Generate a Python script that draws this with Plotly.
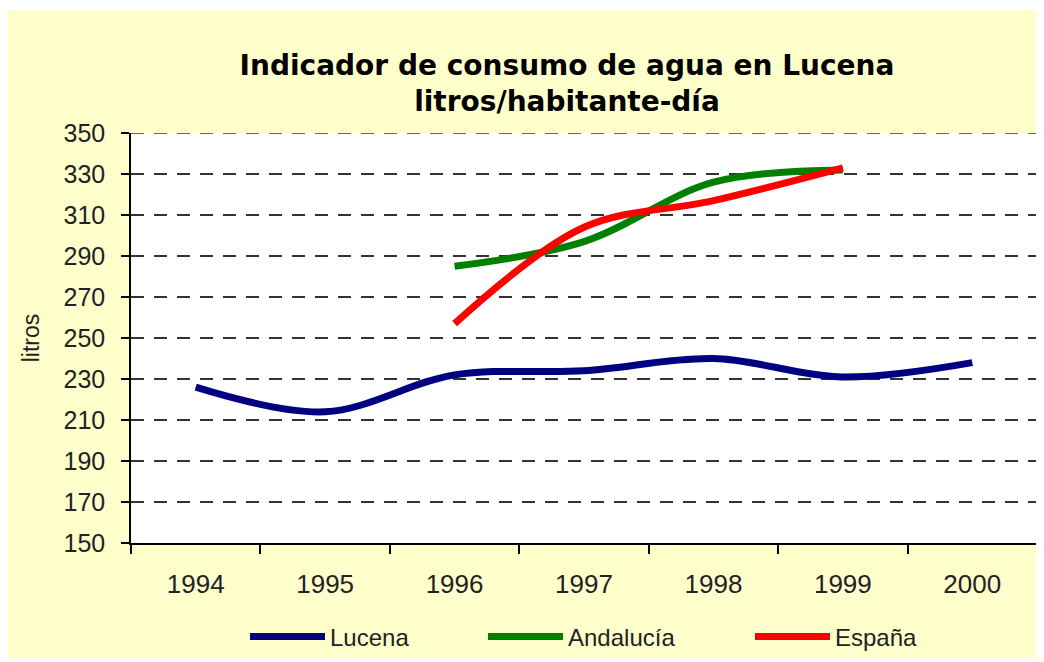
import plotly.graph_objects as go

years = ["1994", "1995", "1996", "1997", "1998", "1999", "2000"]
lucena = [226, 214, 232, 234, 240, 231, 238]
andalucia_years = ["1996", "1997", "1998", "1999"]
andalucia = [285, 297, 326, 332]
espana_years = ["1996", "1997", "1998", "1999"]
espana = [257, 304, 317, 333]

# page body has an 8px margin; work in figure coordinates
OFF = 8
W, H = 1036, 650
L, R, T, B = 123, 7, 125, 115
pw, ph = W - L - R, H - T - B

def px_x(sx):
    return (sx - OFF - L) / pw

def px_y(sy):
    return (H - B - (sy - OFF)) / ph

fig = go.Figure()
fig.add_trace(go.Scatter(x=years, y=lucena, name="Lucena", mode="lines", legend="legend",
                         line=dict(color="#000080", width=7, shape="spline", smoothing=1)))
fig.add_trace(go.Scatter(x=andalucia_years, y=andalucia, name="Andalucía", mode="lines", legend="legend2",
                         line=dict(color="#008000", width=7, shape="spline", smoothing=1)))
fig.add_trace(go.Scatter(x=espana_years, y=espana, name="España", mode="lines", legend="legend3",
                         line=dict(color="#FF0000", width=7, shape="spline", smoothing=1)))

leg_common = dict(orientation="h", xanchor="left", yanchor="middle", y=px_y(637),
                  bgcolor="rgba(0,0,0,0)", itemwidth=75,
                  font=dict(family="Liberation Sans, Arial, sans-serif", size=24, color="#222"))

fig.update_layout(
    width=W, height=H,
    margin=dict(l=L, r=R, t=T, b=B, autoexpand=False),
    paper_bgcolor="white",
    plot_bgcolor="white",
    font=dict(family="Liberation Sans, Arial, sans-serif", size=24, color="#222"),
    title=dict(text="<b>Indicador de consumo de agua en Lucena<br>litros/habitante-día</b>",
               font=dict(family="DejaVu Sans, Verdana, sans-serif", size=28, color="black"),
               x=px_x(567), xref="paper", xanchor="center",
               y=1 - (75 - OFF) / H, yref="container", yanchor="middle"),
    shapes=[
        dict(type="rect", xref="paper", yref="paper", layer="below",
             x0=px_x(8), x1=px_x(1044), y0=px_y(658), y1=px_y(10),
             fillcolor="#FFFFCC", line=dict(width=0)),
        dict(type="rect", xref="paper", yref="paper", layer="below",
             x0=0, x1=1, y0=0, y1=1, fillcolor="white", line=dict(width=0)),
        dict(type="line", xref="paper", yref="y", layer="above",
             x0=0, x1=1, y0=350, y1=350,
             line=dict(color="#333", width=1.5, dash="13px,10px")),
    ],
    xaxis=dict(
        type="category", categoryorder="array", categoryarray=years,
        range=[-0.5, 6.5], tickson="boundaries", ticks="outside", ticklen=9,
        tickwidth=1.5, tickcolor="black", showline=True, linecolor="black", linewidth=1.5,
        showgrid=False, ticklabelstandoff=17,
        tickfont=dict(size=26, color="#222"),
    ),
    yaxis=dict(
        range=[150, 350], dtick=20, tick0=150, ticks="outside", ticklen=8,
        tickwidth=1.5, tickcolor="black", showline=True, linecolor="black", linewidth=1.5,
        showgrid=True, gridcolor="#333", gridwidth=1.5, griddash="13px,10px",
        zeroline=False, ticklabelstandoff=11,
        tickfont=dict(size=25, color="#222"),
        title=dict(text="litros", font=dict(size=23, color="#222"), standoff=17),
    ),
    legend=dict(leg_common, x=px_x(245)),
    legend2=dict(leg_common, x=px_x(483)),
    legend3=dict(leg_common, x=px_x(750)),
    showlegend=True,
)

fig.write_html("out.html")
